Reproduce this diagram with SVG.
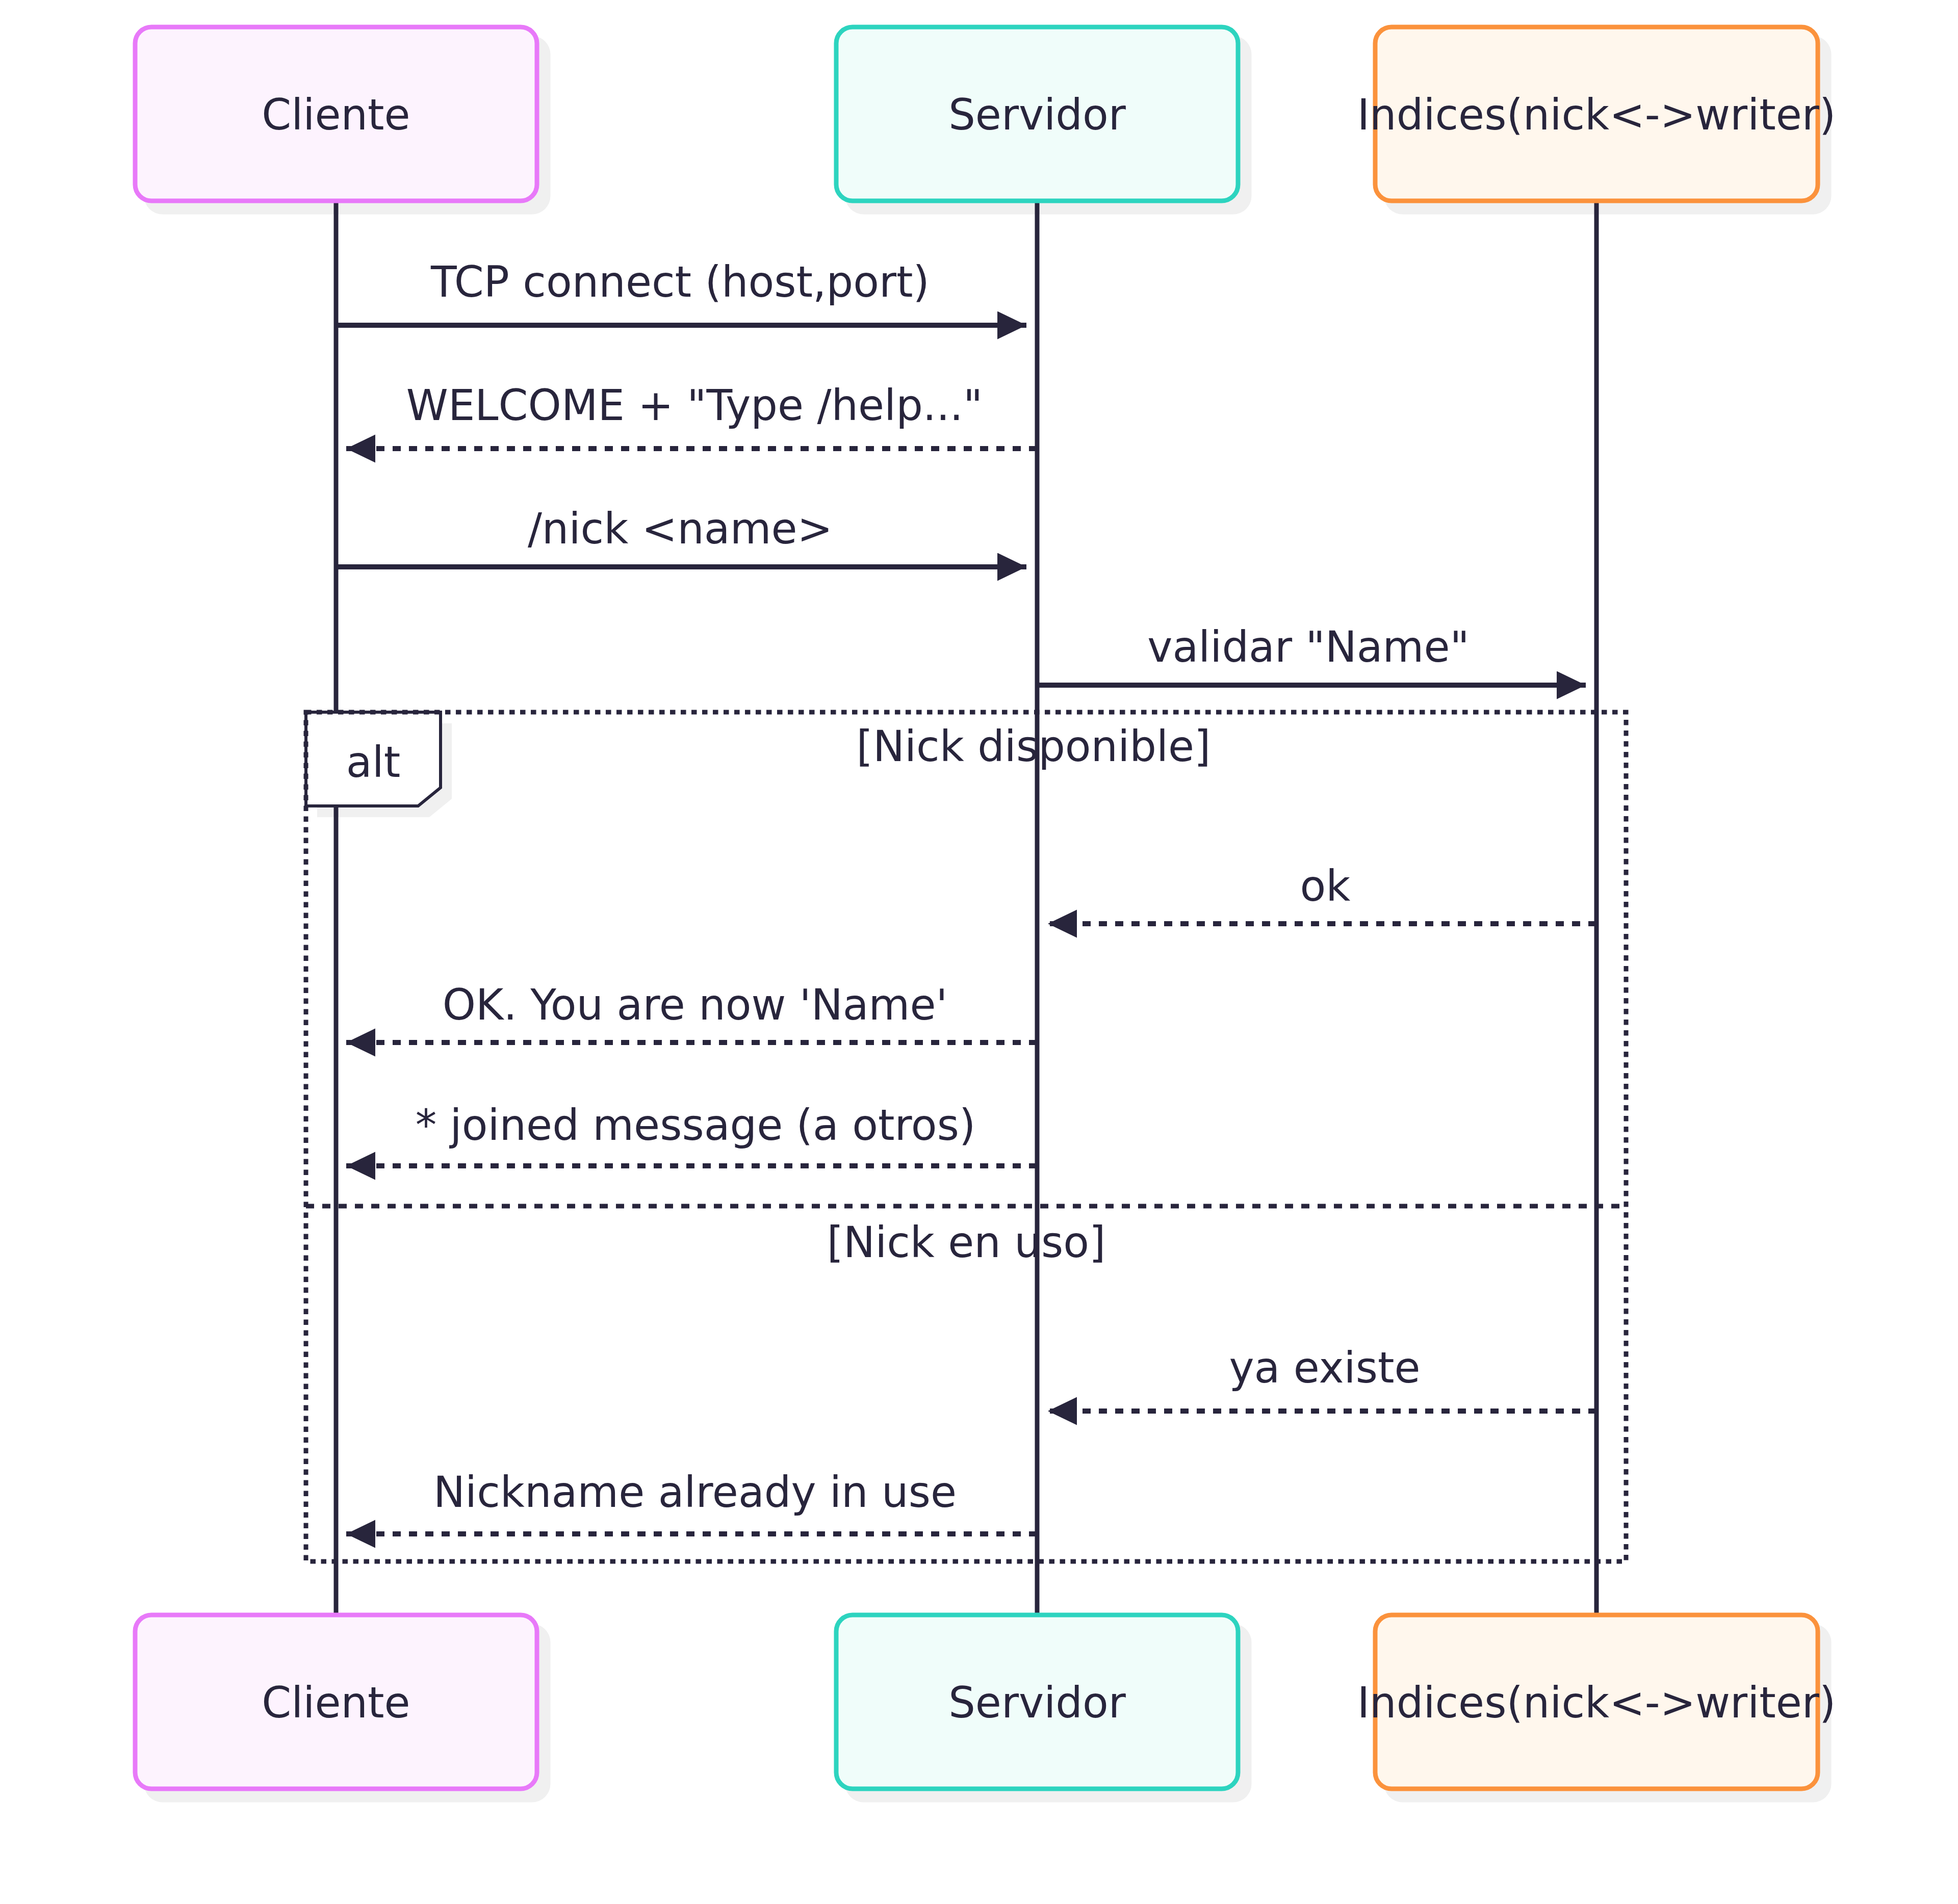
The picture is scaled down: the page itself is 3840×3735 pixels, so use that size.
<svg xmlns="http://www.w3.org/2000/svg" width="3840" height="3735" viewBox="0 0 3840 3735">
<style>
  text { font-family: "DejaVu Sans", "Liberation Sans", sans-serif; font-size: 83px; fill: #28253C; }
  .mid { text-anchor: middle; }
  .shadow { fill: #F0F0F0; }
  .box { stroke-width: 9; }
  .cli { fill: #FDF3FE; stroke: #E879F9; }
  .srv { fill: #F0FDFA; stroke: #2DD4BF; }
  .idx { fill: #FFF7ED; stroke: #FB923C; }
  .life { stroke: #28253C; stroke-width: 9; fill: none; }
  .msg { stroke: #28253C; stroke-width: 10; fill: none; }
  .dash { stroke-dasharray: 16 16; }
  .loop { stroke: #28253C; stroke-width: 9; fill: none; stroke-dasharray: 10.5 10.5; }
  .sep { stroke: #28253C; stroke-width: 9; fill: none; stroke-dasharray: 16 16; }
  .label { fill: #FFFFFF; stroke: #28253C; stroke-width: 6; }
</style>
<defs>
  <marker id="arrow" markerUnits="userSpaceOnUse" markerWidth="58" markerHeight="56" refX="57" refY="27.5" orient="auto">
    <path d="M0,0 L57,27.5 L0,55 Z" fill="#28253C"/>
  </marker>
</defs>
<rect width="3840" height="3735" fill="#FFFFFF"/>

<g id="shadows">
  <rect class="shadow" x="282.5" y="70.5" width="797" height="350" rx="36"/>
  <rect class="shadow" x="1657.5" y="70.5" width="797" height="350" rx="36"/>
  <rect class="shadow" x="2714.5" y="70.5" width="877" height="350" rx="36"/>
  <rect class="shadow" x="282.5" y="3185.5" width="797" height="350" rx="36"/>
  <rect class="shadow" x="1657.5" y="3185.5" width="797" height="350" rx="36"/>
  <rect class="shadow" x="2714.5" y="3185.5" width="877" height="350" rx="36"/>
  <polygon class="shadow" points="622,1419 886,1419 886,1567 842,1603 622,1603"/>
</g>

<g id="lifelines">
  <line class="life" x1="659" y1="394" x2="659" y2="3168"/>
  <line class="life" x1="2034" y1="394" x2="2034" y2="3168"/>
  <line class="life" x1="3131" y1="394" x2="3131" y2="3168"/>
</g>

<g id="actor-cliente-top">
  <rect class="box cli" x="265" y="53" width="788" height="341" rx="32"/>
  <text class="mid" x="659" y="254">Cliente</text>
</g>
<g id="actor-servidor-top">
  <rect class="box srv" x="1640" y="53" width="788" height="341" rx="32"/>
  <text class="mid" x="2034" y="254">Servidor</text>
</g>
<g id="actor-indices-top">
  <rect class="box idx" x="2697" y="53" width="868" height="341" rx="32"/>
  <text class="mid" x="3131" y="254">Indices(nick&lt;-&gt;writer)</text>
</g>

<g id="actor-cliente-bottom">
  <rect class="box cli" x="265" y="3168" width="788" height="341" rx="32"/>
  <text class="mid" x="659" y="3369">Cliente</text>
</g>
<g id="actor-servidor-bottom">
  <rect class="box srv" x="1640" y="3168" width="788" height="341" rx="32"/>
  <text class="mid" x="2034" y="3369">Servidor</text>
</g>
<g id="actor-indices-bottom">
  <rect class="box idx" x="2697" y="3168" width="868" height="341" rx="32"/>
  <text class="mid" x="3131" y="3369">Indices(nick&lt;-&gt;writer)</text>
</g>

<g id="alt-block">
  <polygon class="label" points="600,1397 864,1397 864,1545 820,1581 600,1581"/>
  <text class="mid" x="732" y="1524">alt</text>
  <rect class="loop" x="600" y="1397" width="2589" height="1666"/>
  <line class="sep" x1="600" y1="2366" x2="3189" y2="2366"/>
  <text class="mid" x="2027" y="1493">[Nick disponible]</text>
  <text class="mid" x="1895" y="2466">[Nick en uso]</text>
</g>

<g id="connectors">
  <line class="msg" x1="659" y1="638" x2="2013" y2="638" marker-end="url(#arrow)"/>
  <line class="msg dash" x1="2034" y1="880" x2="679" y2="880" marker-end="url(#arrow)"/>
  <line class="msg" x1="659" y1="1112" x2="2013" y2="1112" marker-end="url(#arrow)"/>
  <line class="msg" x1="2034" y1="1344" x2="3110" y2="1344" marker-end="url(#arrow)"/>
  <line class="msg dash" x1="3131" y1="1812" x2="2055" y2="1812" marker-end="url(#arrow)"/>
  <line class="msg dash" x1="2034" y1="2045" x2="679" y2="2045" marker-end="url(#arrow)"/>
  <line class="msg dash" x1="2034" y1="2287" x2="679" y2="2287" marker-end="url(#arrow)"/>
  <line class="msg dash" x1="3131" y1="2768" x2="2055" y2="2768" marker-end="url(#arrow)"/>
  <line class="msg dash" x1="2034" y1="3009" x2="679" y2="3009" marker-end="url(#arrow)"/>
</g>

<g id="message-labels">
  <text class="mid" x="1334" y="582">TCP connect (host,port)</text>
  <text class="mid" x="1362" y="824">WELCOME + "Type /help..."</text>
  <text class="mid" x="1334" y="1066">/nick &lt;name&gt;</text>
  <text class="mid" x="2566" y="1298">validar "Name"</text>
  <text class="mid" x="2599" y="1767">ok</text>
  <text class="mid" x="1363" y="2000">OK. You are now 'Name'</text>
  <text class="mid" x="1364" y="2236">* joined message (a otros)</text>
  <text class="mid" x="2598" y="2712">ya existe</text>
  <text class="mid" x="1363" y="2956">Nickname already in use</text>
</g>
</svg>
